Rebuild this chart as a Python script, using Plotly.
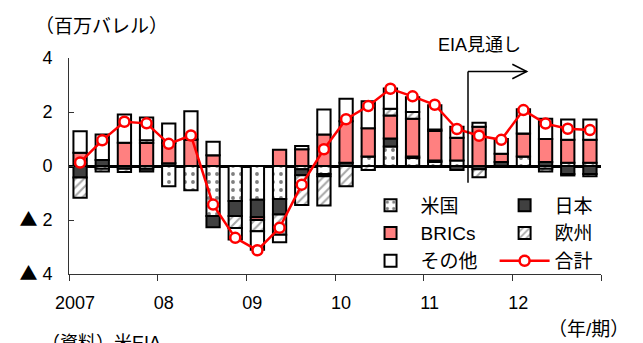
import plotly.graph_objects as go

categories = [f"{y}Q{q}" for y in range(2007, 2013) for q in range(1, 5)]
us     = [0.0, -0.10, 0.0, -0.10, -0.75, -0.90, -1.85, -1.30, -1.25, -1.22, -0.12, -0.30,
          0.0, 0.35, 0.72, 0.30, 0.15, 0.20, 0.0, 0.0, 0.35, -0.10, 0.12, 0.12]
japan  = [-0.43, 0.22, -0.10, -0.10, 0.10, 0.0, -0.42, -0.55, -0.65, -0.58, -0.22, -0.08,
          0.12, 0.0, 0.30, 0.05, 0.05, -0.15, -0.12, 0.15, 0.0, 0.15, -0.30, -0.30]
brics  = [0.49, 0.0, 0.86, 0.85, 0.75, 0.98, 0.40, 0.0, -0.10, 0.60, 0.62, 1.17,
          1.54, 1.05, 0.85, 1.40, 1.10, 0.85, 1.45, 0.30, 0.85, 0.85, 0.85, 0.85]
europe = [-0.75, -0.10, -0.12, 0.10, 0.0, 0.0, 0.0, -0.45, -0.42, -0.75, -1.10, -1.08,
          -0.75, -0.15, 0.25, 0.25, 0.05, 0.0, -0.30, -0.03, 0.0, -0.10, -0.05, -0.08]
other  = [0.80, 0.95, 1.05, 0.85, 0.72, 1.05, 0.50, -0.42, -0.68, -0.27, 0.12, 0.92,
          0.83, 1.00, 0.75, 0.55, 0.90, 0.40, 0.15, 0.55, 0.90, 0.75, 0.75, 0.75]
total  = [0.13, 0.95, 1.64, 1.58, 0.82, 1.13, -1.43, -2.66, -3.12, -2.29, -0.69, 0.62,
          1.73, 2.22, 2.86, 2.58, 2.27, 1.37, 1.12, 0.97, 2.07, 1.57, 1.38, 1.33]
year_labels = ["2007", "08", "09", "10", "11", "12", ""]
ytick_vals = [-4, -2, 0, 2, 4]
TRI = '<span style="font-family:Noto Sans CJK JP">▲</span>'
ytick_text = [TRI + " 4", TRI + " 2", "0", "2", "4"]

x = list(range(len(categories)))
FONT = "Liberation Sans, Noto Sans CJK JP, sans-serif"
outline = dict(color="black", width=2)

fig = go.Figure()
fig.add_trace(go.Bar(x=x, y=us, name="米国", width=0.6, legend="legend",
                     marker=dict(color="white", line=outline,
                                 pattern=dict(shape=".", fgcolor="black", bgcolor="white",
                                              size=8, solidity=0.18)),
                     hovertext=categories))
fig.add_trace(go.Bar(x=x, y=japan, name="日本", width=0.6, legend="legend2",
                     marker=dict(color="#404040", line=outline), hovertext=categories))
fig.add_trace(go.Bar(x=x, y=brics, name="BRICs", width=0.6, legend="legend",
                     marker=dict(color="#FF8080", line=outline), hovertext=categories))
fig.add_trace(go.Bar(x=x, y=europe, name="欧州", width=0.6, legend="legend2",
                     marker=dict(color="white", line=outline,
                                 pattern=dict(shape="/", fgcolor="#505050", bgcolor="white",
                                              size=6, solidity=0.35)),
                     hovertext=categories))
fig.add_trace(go.Bar(x=x, y=other, name="その他", width=0.6, legend="legend",
                     marker=dict(color="white", line=outline), hovertext=categories))
fig.add_trace(go.Scatter(x=x, y=total, name="合計", mode="lines+markers", legend="legend2",
                         line=dict(color="#FF0000", width=2.5),
                         marker=dict(symbol="circle", size=10, color="white",
                                     line=dict(color="#FF0000", width=2.5)),
                         hovertext=categories))

# EIA forecast marker
fig.add_shape(type="line", x0=17.5, x1=17.5, y0=-0.62, y1=3.5, line=dict(color="black", width=1.5))
fig.add_shape(type="line", x0=17.5, x1=20.15, y0=3.5, y1=3.5, line=dict(color="black", width=1.5))
fig.add_shape(type="path", path="M 19.5 3.77 L 20.15 3.5 L 19.5 3.23", line=dict(color="black", width=1.5))

fig.add_annotation(text="（百万バレル）", xref="paper", yref="paper", x=-0.068, y=1.145,
                   xanchor="left", yanchor="middle", showarrow=False,
                   font=dict(family=FONT, size=19, color="black"))
fig.add_annotation(text="EIA見通し", xref="paper", yref="paper", x=0.771, y=1.06,
                   xanchor="center", yanchor="middle", showarrow=False,
                   font=dict(family=FONT, size=18, color="black"))
fig.add_annotation(text="（年/期）", xref="paper", yref="paper", x=1.057, y=-0.255,
                   xanchor="right", yanchor="middle", showarrow=False,
                   font=dict(family=FONT, size=19, color="black"))
fig.add_annotation(text="（資料）米EIA", xref="paper", yref="paper", x=-0.055, y=-0.318,
                   xanchor="left", yanchor="middle", showarrow=False,
                   font=dict(family=FONT, size=18, color="black"))

legend_common = dict(bgcolor="rgba(255,255,255,0)", borderwidth=0,
                     font=dict(family=FONT, size=19, color="black"),
                     orientation="v", xanchor="left", yanchor="top",
                     itemwidth=50, tracegroupgap=0, itemclick=False)

fig.update_layout(
    width=643, height=343,
    margin=dict(l=61, r=50, t=50, b=77),
    paper_bgcolor="white", plot_bgcolor="white",
    barmode="relative", bargap=0.4,
    font=dict(family=FONT, size=18, color="black"),
    showlegend=True,
    legend=dict(x=0.548, y=0.405, **legend_common),
    legend2=dict(x=0.80, y=0.405, **legend_common),
    xaxis=dict(range=[-0.5, 23.5], tickmode="array",
               tickvals=[-0.5, 3.5, 7.5, 11.5, 15.5, 19.5, 23.5], ticktext=year_labels,
               ticks="outside", ticklen=6, tickcolor="#333", showline=True, linecolor="#333",
               linewidth=1, showgrid=False, zeroline=False, ticklabelshift=6,
               ticklabelstandoff=6,
               tickfont=dict(family=FONT, size=18, color="black")),
    yaxis=dict(range=[-4, 4], tickmode="array", tickvals=ytick_vals, ticktext=ytick_text,
               ticks="inside", ticklen=5, tickcolor="#333", showline=True, linecolor="#333",
               linewidth=1, showgrid=False, zeroline=True, zerolinecolor="black",
               zerolinewidth=2.5, ticklabelstandoff=12,
               tickfont=dict(family=FONT, size=18, color="black")),
)

fig.write_html("out.html")
